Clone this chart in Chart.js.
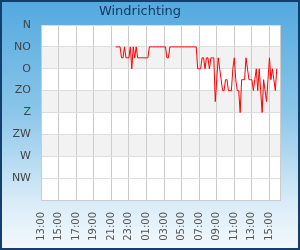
<!DOCTYPE html>
<html>
<head>
<meta charset="utf-8">
<script src="https://cdn.jsdelivr.net/npm/chart.js@4/dist/chart.umd.min.js"></script>
<style>
  html, body { margin: 0; padding: 0; }
  #kader {
    width: 300px; height: 250px; position: relative;
    background: linear-gradient(to bottom, #52a9de 0%, #8cc6ea 45%, #d8ebf7 80%, #f4f9fd 100%);
    box-shadow: inset 0 0 0 2px #123f6e;
  }
  #chart { display: block; }
</style>
</head>
<body>
<div id="kader"><canvas id="chart" width="300" height="250"></canvas></div>
<script>
// windrichting in graden, elke 10 minuten vanaf 21:30
const startTijd = '21:30';
const intervalMin = 10;
const richting = [
  45, 45, 45, 45, 67.5, 67.5, 45, 67.5, 67.5, 67.5,
  45, 90, 45, 67.5, 45, 67.5, 67.5, 67.5, 67.5, 67.5,
  67.5, 67.5, 67.5, 45, 45, 45, 45, 45, 45, 45,
  45, 45, 45, 45, 45, 67.5, 67.5, 45, 45, 45,
  45, 45, 45, 45, 45, 45, 45, 45, 45, 45,
  45, 45, 45, 45, 45, 45, 90, 90, 90, 67.5,
  67.5, 90, 67.5, 67.5, 90, 67.5, 67.5, 67.5, 157.5, 112.5,
  67.5, 90, 112.5, 135, 135, 112.5, 112.5, 135, 135, 135,
  90, 67.5, 112.5, 135, 135, 180, 112.5, 112.5, 112.5, 67.5,
  90, 112.5, 112.5, 112.5, 135, 112.5, 90, 135, 90, 135,
  180, 112.5, 135, 157.5, 112.5, 67.5, 112.5, 90, 112.5, 135, 90
];
const windLabels = ['N', 'NO', 'O', 'ZO', 'Z', 'ZW', 'W', 'NW', ''];
const uurLabels = ['13:00', '15:00', '17:00', '19:00', '21:00', '23:00', '01:00',
  '03:00', '05:00', '07:00', '09:00', '11:00', '13:00', '15:00'];

// x-as in minuten vanaf 13:00
const asStart = 13 * 60;
const asEinde = 1632;

const [sh, sm] = startTijd.split(':').map(Number);
const punten = richting.map((r, i) => ({
  x: sh * 60 + sm - asStart + i * intervalMin,
  y: r
}));

const banden = {
  id: 'banden',
  beforeDraw(chart) {
    const { ctx, chartArea: a, scales } = chart;
    const y = scales.y;
    ctx.save();
    ctx.fillStyle = '#ffffff';
    ctx.fillRect(a.left, a.top, a.right - a.left, a.bottom - a.top);
    ctx.fillStyle = '#f2f2f2';
    [45, 135, 225].forEach((v) => {
      const y1 = y.getPixelForValue(v);
      const y2 = y.getPixelForValue(v + 45);
      ctx.fillRect(a.left, y1, a.right - a.left, y2 - y1);
    });
    ctx.strokeStyle = '#cccccc';
    ctx.lineWidth = 1;
    ctx.beginPath();
    ctx.moveTo(Math.round(a.right) + 0.5, a.top);
    ctx.lineTo(Math.round(a.right) + 0.5, a.bottom);
    ctx.stroke();
    ctx.restore();
  }
};

const fram = document.getElementById('chart');
new Chart(fram, {
  type: 'line',
  data: {
    datasets: [{
      data: punten,
      borderColor: '#ff0000',
      borderWidth: 1,
      pointRadius: 0,
      tension: 0,
      fill: false
    }]
  },
  options: {
    responsive: false,
    animation: false,
    layout: { padding: { left: 0, right: 20, top: 0, bottom: 0 } },
    plugins: {
      legend: { display: false },
      tooltip: { enabled: false },
      title: {
        display: true,
        text: 'Windrichting',
        color: '#12375f',
        font: { family: 'DejaVu Sans', size: 13, weight: 'normal' },
        padding: { top: 4, bottom: 5.4 }
      }
    },
    scales: {
      x: {
        type: 'linear',
        min: 0,
        max: asEinde,
        afterFit: (s) => { s.height = 50; },
        grid: { color: '#cccccc', drawTicks: false },
        border: { color: '#cccccc' },
        ticks: {
          stepSize: 120,
          includeBounds: false,
          autoSkip: false,
          minRotation: 90,
          maxRotation: 90,
          padding: 12,
          color: '#555555',
          font: { family: 'DejaVu Sans', size: 10 },
          callback: (v) => uurLabels[v / 120] ?? ''
        }
      },
      y: {
        type: 'linear',
        reverse: true,
        min: 0,
        max: 360,
        afterFit: (s) => { s.width = 41; },
        grid: { color: '#dddddd', drawTicks: false },
        border: { color: '#cccccc' },
        ticks: {
          stepSize: 45,
          padding: 10,
          color: '#444444',
          font: { family: 'DejaVu Sans', size: 11 },
          callback: (v) => windLabels[v / 45] ?? ''
        }
      }
    }
  },
  plugins: [banden]
});
</script>
</body>
</html>
